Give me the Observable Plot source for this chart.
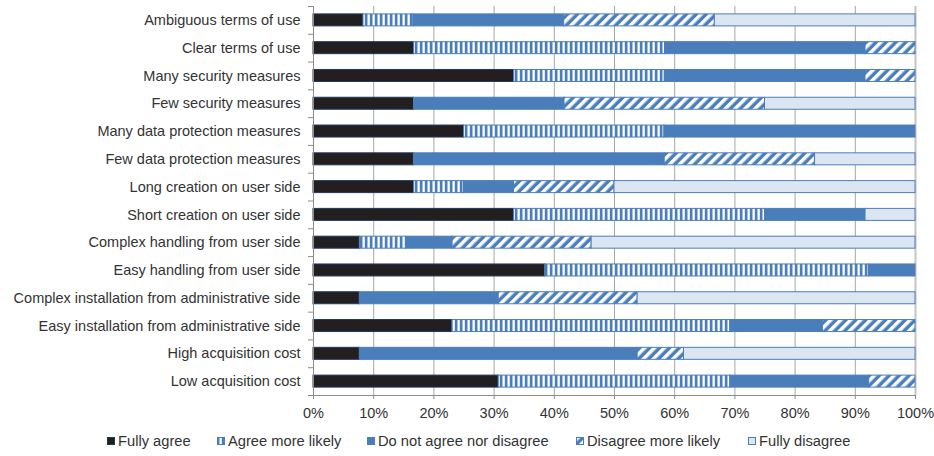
<!DOCTYPE html>
<html><head><meta charset="utf-8">
<script src="https://cdn.jsdelivr.net/npm/d3@7"></script>
<script src="https://cdn.jsdelivr.net/npm/@observablehq/plot@0.6"></script>
<style>
body{margin:0;background:#fff;font-family:"Liberation Sans",Arial,sans-serif;}
#chart{position:relative;width:934px;}
.legend{position:relative;width:934px;height:31px;font-size:14.7px;color:#333;}
.item{position:absolute;top:0;display:flex;align-items:center;height:31px;white-space:nowrap;}
.item svg{margin-right:3px;display:block;}
</style></head><body><div id="chart"></div>
<script>
const categories = [
  "Ambiguous terms of use","Clear terms of use","Many security measures","Few security measures",
  "Many data protection measures","Few data protection measures","Long creation on user side",
  "Short creation on user side","Complex handling from user side","Easy handling from user side",
  "Complex installation from administrative side","Easy installation from administrative side",
  "High acquisition cost","Low acquisition cost"];
const seriesNames = ["Fully agree","Agree more likely","Do not agree nor disagree","Disagree more likely","Fully disagree"];
const fullyAgree         = [8.3, 16.7, 33.3, 16.7, 25.0, 16.7, 16.7, 33.3, 7.7, 38.5, 7.7, 23.1, 7.7, 30.8];
const agreeMoreLikely    = [8.3, 41.7, 25.0, 0,    33.3, 0,    8.3,  41.7, 7.7, 53.8, 0,   46.2, 0,   38.5];
const neutral            = [25.0,33.3, 33.3, 25.0, 41.7, 41.7, 8.3,  16.7, 7.7, 7.7,  23.1,15.4, 46.2,23.1];
const disagreeMoreLikely = [25.0,8.3,  8.3,  33.3, 0,    25.0, 16.7, 0,    23.1,0,    23.1,15.4, 7.7, 7.7];
const fullyDisagree      = [33.3,0,    0,    25.0, 0,    16.7, 50.0, 8.3,  53.8,0,    46.2,0,    38.5,0];
const xTicks = [0,0.1,0.2,0.3,0.4,0.5,0.6,0.7,0.8,0.9,1];

const seriesValues = [fullyAgree, agreeMoreLikely, neutral, disagreeMoreLikely, fullyDisagree];
const fills = ["#231f20","url(#pVert)","#4a7ebb","url(#pDiag)","#dce6f2"];
const strokes = ["#1f3a5f","#4a7ebb","#4a7ebb","#4a7ebb","#4a7ebb"];
const rows = [];
seriesNames.forEach((s, si) => categories.forEach((c, ci) => {
  const v = seriesValues[si][ci];
  if (v > 0) rows.push({category: c, series: s, value: v, fill: fills[si], stroke: strokes[si]});
}));

const W = 934, H = 425, mT = 6, mB = 30, mL = 313, mR = 19;
const step = (H - mT - mB) / categories.length;
const barH = 12;
const inset = (step - barH) / 2;
const tickLen = 5 / (W - mL - mR);
const axisColor = "#8c8c8c";

const chart = Plot.plot({
  width: W, height: H, marginLeft: mL, marginRight: mR, marginTop: mT, marginBottom: mB,
  style: {fontFamily: "'Liberation Sans', Arial, sans-serif", fontSize: "14.5px", color: "#333", background: "#fff"},
  x: {domain: [0, 1], label: null},
  y: {domain: categories, padding: 0, round: false, label: null},
  color: {type: "identity"},
  marks: [
    Plot.ruleX(xTicks.slice(1, -1), {stroke: "#a6a6a6"}),
    Plot.ruleX([1], {stroke: "#c4c4c4", strokeWidth: 2}),
    Plot.barX(rows, Plot.stackX({y: "category", x: "value", z: "series", fill: "fill", stroke: "stroke", strokeWidth: 1, offset: "normalize", insetTop: inset, insetBottom: inset})),
    Plot.ruleX([0], {stroke: axisColor}),
    Plot.ruleY([categories[categories.length - 1]], {x1: 0, x2: 1, dy: step / 2, stroke: axisColor}),
    Plot.ruleY(categories, {x1: -tickLen, x2: 0, dy: step / 2, stroke: axisColor}),
    Plot.ruleY([categories[0]], {x1: -tickLen, x2: 0, dy: -step / 2, stroke: axisColor}),
    Plot.axisX({ticks: xTicks, tickFormat: d3.format(".0%"), tickSize: 4, tickPadding: 8, stroke: axisColor, fill: "#333", fontSize: 14.5, label: null}),
    Plot.axisY({tickSize: 0, tickPadding: 13, fill: "#333", fontSize: 14.5, label: null})
  ]
});

const defs = d3.select(chart).insert("defs", ":first-child");
const pv = defs.append("pattern").attr("id", "pVert").attr("patternUnits", "userSpaceOnUse").attr("width", 5).attr("height", 10);
pv.append("rect").attr("width", 5).attr("height", 10).attr("fill", "#4a7ebb");
pv.append("rect").attr("x", 2.5).attr("width", 2.3).attr("height", 10).attr("fill", "#fff");
const pd = defs.append("pattern").attr("id", "pDiag").attr("patternUnits", "userSpaceOnUse").attr("width", 7).attr("height", 7).attr("patternTransform", "rotate(45)");
pd.append("rect").attr("width", 7).attr("height", 7).attr("fill", "#4a7ebb");
pd.append("rect").attr("width", 3.5).attr("height", 7).attr("fill", "#fff");

const root = document.getElementById("chart");
root.appendChild(chart);

const legend = document.createElement("div");
legend.className = "legend";
const lefts = [107, 217, 367, 576, 748];
seriesNames.forEach((s, i) => {
  const item = document.createElement("div");
  item.className = "item";
  item.style.left = lefts[i] + "px";
  const sw = d3.create("svg").attr("width", 8).attr("height", 8);
  sw.append("rect").attr("x", 0.5).attr("y", 0.5).attr("width", 7).attr("height", 7)
    .attr("fill", fills[i]).attr("stroke", strokes[i]).attr("stroke-width", 1);
  item.appendChild(sw.node());
  const t = document.createElement("span");
  t.textContent = s;
  item.appendChild(t);
  legend.appendChild(item);
});
root.appendChild(legend);
</script></body></html>
